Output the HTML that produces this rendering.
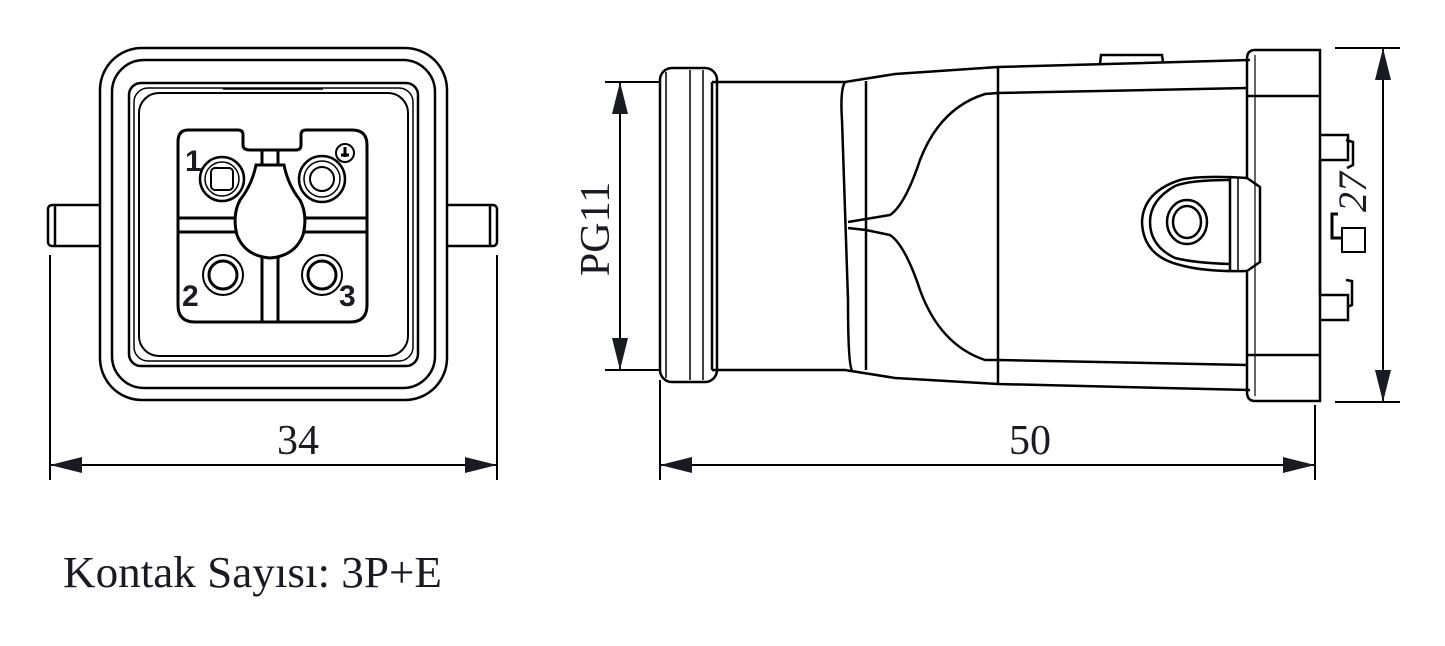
<!DOCTYPE html>
<html><head><meta charset="utf-8"><style>
html,body{margin:0;padding:0;background:#fff;}
svg{display:block;}
text{font-family:"Liberation Serif",serif;fill:#1a1a22;}
</style></head><body>
<svg width="1445" height="646" viewBox="0 0 1445 646" xmlns="http://www.w3.org/2000/svg">
<g fill="none" stroke="#000" stroke-width="2.5">
<!-- LEFT VIEW -->
<rect x="48" y="205" width="54" height="41" rx="4"/>
<line x1="55" y1="206" x2="55" y2="245"/>
<rect x="445" y="205" width="52" height="41" rx="4"/>
<line x1="490" y1="206" x2="490" y2="245"/>
<rect x="100" y="48" width="347" height="352" rx="42" fill="#fff"/>
<rect x="112" y="60" width="323" height="328" rx="32"/>
<rect x="129" y="83" width="289" height="283" rx="12"/>
<rect x="134" y="88" width="279" height="273" rx="14" stroke-width="1.5"/>
<rect x="139" y="93" width="269" height="263" rx="20" stroke-width="2"/>
<line x1="223" y1="89" x2="323" y2="89" stroke-width="1.5"/>
<!-- central face -->
<path d="M188 130 L238 130 Q243 130 243 135 L243 145 Q243 150 250 150 L296 150 Q301 150 301 145 L301 135 Q301 130 306 130 L352 130 Q367 130 367 145 L367 305 Q367 322 350 322 L195 322 Q178 322 178 305 L178 142 Q178 130 188 130 Z" stroke-width="3"/>
<path d="M178 218 L240 218 M300 218 L367 218 M178 232 L240 232 M300 232 L367 232" stroke-width="3"/>
<path d="M262 150 L262 165 M278 150 L278 165 M262 256 L262 322 M278 256 L278 322" stroke-width="3"/>
<path d="M256 165 L284 165 Q288 185 300 200 Q308 215 303 235 Q295 256 270 258 Q245 256 237 235 Q232 215 240 200 Q252 185 256 165 Z" stroke-width="3" fill="#fff"/>
<circle cx="222" cy="179" r="22"/><circle cx="222" cy="179" r="17" stroke-width="1.5"/>
<rect x="211" y="168" width="22" height="22" rx="4" stroke-width="2"/>
<circle cx="322" cy="179" r="23"/><circle cx="322" cy="179" r="18" stroke-width="1.5"/><circle cx="322" cy="179" r="12" stroke-width="2"/>
<circle cx="345" cy="153" r="9" stroke-width="2"/>
<circle cx="223" cy="275" r="20" stroke-width="2"/><circle cx="223" cy="275" r="14" stroke-width="3"/>
<circle cx="322" cy="275" r="20" stroke-width="2"/><circle cx="322" cy="275" r="14" stroke-width="3"/>
</g>
<text x="185" y="171" style="font-family:'Liberation Sans',sans-serif;font-weight:bold" font-size="30">1</text>
<text x="182" y="306" style="font-family:'Liberation Sans',sans-serif;font-weight:bold" font-size="30">2</text>
<text x="339" y="306" style="font-family:'Liberation Sans',sans-serif;font-weight:bold" font-size="30">3</text>
<path d="M345 147 L345 157 M341 155 L349 155" stroke="#000" stroke-width="3"/>

<g stroke="#000" stroke-width="2">
<line x1="50" y1="255" x2="50" y2="480"/>
<line x1="497" y1="255" x2="497" y2="480"/>
<line x1="50" y1="465" x2="497" y2="465"/>
</g>
<path d="M50 465 L82 457 L82 473 Z M497 465 L465 457 L465 473 Z" fill="#1a1a22"/>
<text x="298" y="454" font-size="42" text-anchor="middle">34</text>

<!-- RIGHT VIEW -->
<g fill="none" stroke="#000" stroke-width="2.5">
<rect x="660" y="68" width="57" height="314" rx="12"/>
<line x1="666" y1="72" x2="666" y2="378" stroke-width="1.5"/>
<line x1="690" y1="70" x2="690" y2="380" stroke-width="1.5"/>
<line x1="703" y1="70" x2="703" y2="380" stroke-width="1.5"/>
<path d="M712 82 L712 370"/>
<path d="M712 82 L845 82 L895 74 L998 67 L1250 60"/>
<path d="M712 370 L845 370 L895 378 L998 384 L1250 390"/>
<path d="M845 82 Q840 90 842 120 L848 300 Q848 365 852 370"/>
<path d="M866 81 L866 370 M848 222 L866 219 L890 215 Q905 205 920 160 Q940 108 985 94 L998 93 M848 228 L866 230 L890 235 Q905 245 920 290 Q940 345 985 360 L998 360"/>
<line x1="998" y1="67" x2="998" y2="384"/>
<path d="M998 93 L1247 88 M998 360 L1247 365"/>
<path d="M1100 64 L1101 55 L1162 55 L1163 62"/>
<path d="M1255 50 L1320 50 L1320 401 L1255 401 Q1247 401 1247 392 L1247 271 L1260 262 L1260 187 L1247 178 L1247 59 Q1247 50 1255 50 Z"/>
<line x1="1247" y1="96" x2="1320" y2="96"/>
<line x1="1247" y1="355" x2="1320" y2="355"/>
<line x1="1255" y1="55" x2="1255" y2="396" stroke-width="1.2"/>
<path d="M1247 178 Q1200 175 1180 180 Q1143 192 1142 222 Q1143 256 1180 265 Q1205 272 1247 271"/>
<path d="M1230 180 Q1190 180 1175 186 Q1150 200 1150 222 Q1150 246 1175 258 Q1195 263 1230 264"/>
<line x1="1230" y1="178" x2="1230" y2="270"/>
<line x1="1238" y1="178" x2="1238" y2="270" stroke-width="1.5"/>
<ellipse cx="1187" cy="222" rx="20" ry="22"/>
<ellipse cx="1187" cy="222" rx="14" ry="16"/>
<path d="M1320 135 L1348 135 L1348 160 L1320 160 M1346 140 L1353 142 L1353 165 L1347 168"/>
<path d="M1320 295 L1348 295 L1348 320 L1320 320 M1346 280 L1352 281 L1352 305 L1347 307"/>
<path d="M1320 160 L1320 295"/>
<path d="M1338 214 L1332 214 L1332 238 L1342 238" stroke-width="3"/>
<rect x="1342" y="228" width="23" height="24" stroke-width="2"/>
</g>
<text transform="translate(1366,192) rotate(-90)" font-size="40" text-anchor="middle" font-style="italic">27</text>

<g stroke="#000" stroke-width="2">
<line x1="605" y1="82" x2="660" y2="82"/>
<line x1="605" y1="370" x2="660" y2="370"/>
<line x1="620" y1="82" x2="620" y2="370"/>
<line x1="1335" y1="48" x2="1400" y2="48"/>
<line x1="1335" y1="402" x2="1400" y2="402"/>
<line x1="1383" y1="48" x2="1383" y2="402"/>
<line x1="660" y1="380" x2="660" y2="480"/>
<line x1="1315" y1="405" x2="1315" y2="480"/>
<line x1="660" y1="465" x2="1315" y2="465"/>
</g>
<path d="M620 82 L612 114 L628 114 Z M620 370 L612 338 L628 338 Z M1383 48 L1375 80 L1391 80 Z M1383 402 L1375 370 L1391 370 Z M660 465 L692 457 L692 473 Z M1315 465 L1283 457 L1283 473 Z" fill="#1a1a22"/>
<text transform="translate(609,229) rotate(-90)" font-size="42" text-anchor="middle">PG11</text>
<text x="1030" y="454" font-size="42" text-anchor="middle">50</text>

<text x="63" y="587" font-size="44" textLength="379" lengthAdjust="spacingAndGlyphs">Kontak Sayısı: 3P+E</text>
</svg>
</body></html>
